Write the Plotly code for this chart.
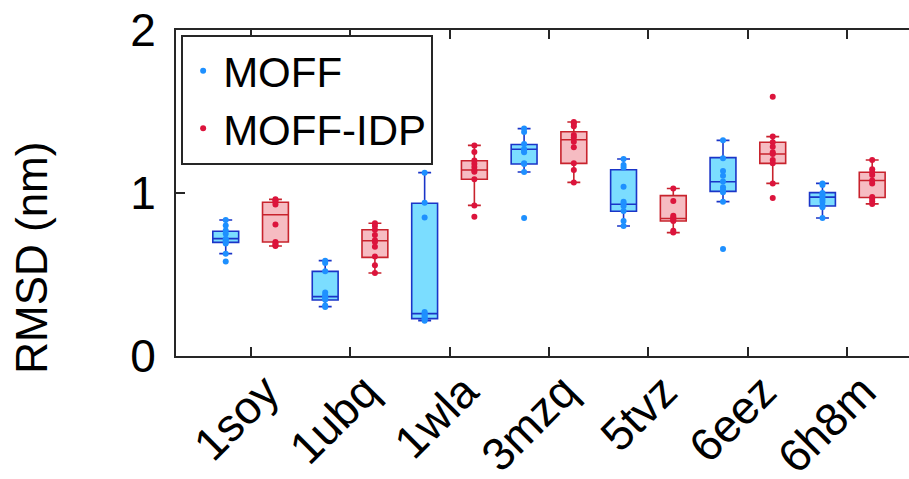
import plotly.graph_objects as go

categories = ["1soy", "1ubq", "1wla", "3mzq", "5tvz", "6eez", "6h8m"]

# MOFF (blue) box statistics
moff_q1 = [0.697, 0.344, 0.229, 1.178, 0.888, 1.010, 0.920]
moff_med = [0.720, 0.364, 0.260, 1.268, 0.931, 1.069, 0.975]
moff_q3 = [0.765, 0.519, 0.937, 1.298, 1.143, 1.217, 1.002]
moff_lo = [0.628, 0.303, 0.217, 1.129, 0.798, 0.947, 0.847]
moff_hi = [0.834, 0.585, 1.125, 1.395, 1.209, 1.323, 1.059]
moff_pts = [
    [0.834, 0.800, 0.770, 0.750, 0.720, 0.710, 0.700, 0.690, 0.628, 0.579],
    [0.585, 0.570, 0.520, 0.390, 0.375, 0.365, 0.355, 0.345, 0.310, 0.300],
    [1.125, 0.940, 0.850, 0.270, 0.260, 0.250, 0.240, 0.230, 0.225, 0.217],
    [1.395, 1.374, 1.300, 1.270, 1.260, 1.250, 1.182, 1.178, 1.129, 0.847],
    [1.209, 1.172, 1.157, 1.039, 0.947, 0.935, 0.920, 0.890, 0.828, 0.798],
    [1.323, 1.213, 1.135, 1.106, 1.070, 1.035, 1.018, 1.004, 0.947, 0.656],
    [1.059, 1.049, 1.000, 0.990, 0.975, 0.960, 0.945, 0.920, 0.912, 0.847],
]

# MOFF-IDP (red) box statistics
idp_q1 = [0.699, 0.605, 1.084, 1.182, 0.828, 1.182, 0.972]
idp_med = [0.867, 0.707, 1.141, 1.327, 0.844, 1.239, 1.077]
idp_q3 = [0.943, 0.775, 1.198, 1.376, 0.984, 1.311, 1.127]
idp_lo = [0.675, 0.509, 0.924, 1.065, 0.757, 1.059, 0.933]
idp_hi = [0.961, 0.814, 1.292, 1.436, 1.028, 1.346, 1.202]
idp_pts = [
    [0.961, 0.955, 0.945, 0.930, 0.806, 0.700, 0.690, 0.680, 0.675],
    [0.814, 0.798, 0.775, 0.742, 0.710, 0.700, 0.671, 0.610, 0.556, 0.509],
    [1.292, 1.252, 1.200, 1.180, 1.160, 1.140, 1.130, 1.085, 0.924, 0.855],
    [1.436, 1.427, 1.410, 1.356, 1.340, 1.315, 1.280, 1.182, 1.141, 1.065],
    [1.028, 0.951, 0.860, 0.850, 0.843, 0.835, 0.828, 0.769, 0.757],
    [1.591, 1.346, 1.311, 1.284, 1.250, 1.239, 1.202, 1.182, 1.059, 0.969],
    [1.202, 1.145, 1.127, 1.110, 1.077, 1.059, 0.975, 0.965, 0.950, 0.933],
]

y_title = "RMSD (nm)"

OFFSET = 0.25
BOXW = 0.26
FONT = "Liberation Sans, Arial, Helvetica, sans-serif"
AX = "#262626"

idx = list(range(1, len(categories) + 1))
fig = go.Figure()

series = [
    ("MOFF", -OFFSET, moff_q1, moff_med, moff_q3, moff_lo, moff_hi, moff_pts,
     "rgba(100,215,255,0.85)", "#1a35c8", "#1e90ff"),
    ("MOFF-IDP", OFFSET, idp_q1, idp_med, idp_q3, idp_lo, idp_hi, idp_pts,
     "rgba(242,160,168,0.7)", "#c8232d", "#dc143c"),
]

for name, off, q1, med, q3, lo, hi, pts, fill, line, pcol in series:
    xs = [i + off for i in idx]
    fig.add_trace(go.Box(
        x=xs, q1=q1, median=med, q3=q3, lowerfence=lo, upperfence=hi,
        width=BOXW, whiskerwidth=0.5, fillcolor=fill,
        line=dict(color=line, width=1.6), boxpoints=False,
        showlegend=False, hoverinfo="skip"))

for name, off, q1, med, q3, lo, hi, pts, fill, line, pcol in series:
    px, py = [], []
    for i, vals in zip(idx, pts):
        for v in vals:
            px.append(i + off)
            py.append(v)
    fig.add_trace(go.Scatter(
        x=px, y=py, mode="markers", name=name,
        marker=dict(color=pcol, size=6)))

fig.add_annotation(
    text=y_title, textangle=-90, xref="paper", yref="paper",
    x=-0.197, y=0.30, xanchor="center", yanchor="middle",
    showarrow=False, font=dict(size=44, family=FONT, color="#000000"))

fig.update_layout(
    width=909, height=479,
    margin=dict(l=176, r=0, t=30, b=123),
    paper_bgcolor="white", plot_bgcolor="white",
    font=dict(family=FONT, size=46, color="#000000"),
    legend=dict(x=0.007, y=0.985, xanchor="left", yanchor="top",
                bgcolor="white", bordercolor=AX, borderwidth=2,
                font=dict(size=42), itemsizing="trace",
                tracegroupgap=0, itemwidth=30),
    xaxis=dict(range=[0.25, 7.62], tickmode="array", tickvals=idx,
               ticktext=categories, tickangle=-45, ticks="inside",
               ticklen=9, tickwidth=1.5, tickcolor=AX,
               showline=True, linecolor=AX, linewidth=2, mirror="ticks",
               showgrid=False, zeroline=False, automargin=False,
               ticklabelstandoff=-12, ticklabelshift=15,
               tickfont=dict(size=46, color="#000000")),
    yaxis=dict(range=[0, 2], tickvals=[0, 1, 2], ticks="inside",
               ticklen=9, tickwidth=1.5, tickcolor=AX,
               showline=True, linecolor=AX, linewidth=2, mirror=False,
               showgrid=False, zeroline=False, ticklabelstandoff=9,
               automargin=False,
               tickfont=dict(size=46, color="#000000")),
)

fig.write_html("out.html")
